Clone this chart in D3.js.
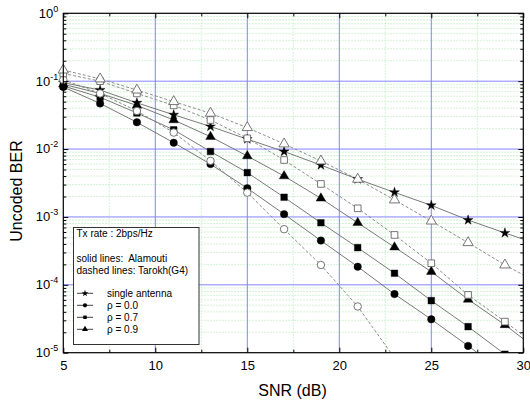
<!DOCTYPE html>
<html><head><meta charset="utf-8">
<script src="https://cdn.jsdelivr.net/npm/d3@7"></script>
<style>
body{margin:0;background:#fff;}
svg{display:block;font-family:Arial,"Liberation Sans",sans-serif;}
</style></head>
<body><svg id="c" width="530" height="406"></svg>
<script>
// ---- data ----
const snr = [5,7,9,11,13,15,17,19,21,23,25,27,29];
const singleAntenna = [0.095,0.074,0.048,0.032,0.0215,0.014,0.0092,0.0058,0.0036,0.0023,0.00148,0.0009,0.00058];
const alamouti00 = [0.082,0.047,0.0248,0.0124,0.006,0.00265,0.0011,0.000448,0.000185,7.3e-5,3.1e-5,1.26e-5,5e-6];
const alamouti07 = [0.085,0.058,0.034,0.0192,0.0092,0.0045,0.00195,0.00082,0.000353,0.000148,5.85e-5,2.42e-5,9.5e-6];
const alamouti09 = [0.09,0.066,0.044,0.0268,0.0152,0.0079,0.004,0.00188,0.00082,0.000358,0.000156,6.1e-5,2.57e-5];
const tarokh00 = [0.105,0.066,0.0364,0.0175,0.0067,0.00228,0.00066,0.000196,4.8e-5,8.4e-6];
const tarokh07 = [0.13,0.1,0.066,0.044,0.0268,0.0144,0.0069,0.00306,0.00134,0.000543,0.000208,7.1e-5,2.87e-5];
const tarokh09 = [0.146,0.108,0.074,0.05,0.0337,0.0207,0.0119,0.00668,0.00359,0.00178,0.00087,0.000418,0.000196];
// line values where each curve meets the right frame (SNR 30)
const endSnr = 30;
const endValues = {single:4.7e-4, a00:2.5e-6, a07:6e-6, a09:1.6e-5, t00:2e-6, t07:1.8e-5, t09:1.4e-4};
const xTicks = [5,10,15,20,25,30];
const xMinor = [7.5,12.5,17.5,22.5,27.5];
const yExps = [0,-1,-2,-3,-4,-5];
const legendTitle = "Tx rate : 2bps/Hz";
const legendSolid = "solid lines:  Alamouti";
const legendDashed = "dashed lines: Tarokh(G4)";
const legendLabels = ["single antenna","ρ = 0.0","ρ = 0.7","ρ = 0.9"];

// ---- layout ----
const L=63.3, R=523.3, T=13.3, B=352.7;
const svg = d3.select("#c");
const x = d3.scaleLinear().domain([5,30]).range([L,R]);
const y = d3.scaleLog().domain([1e-5,1]).range([B,T]);

const yMinor = [];
for (let e=-5;e<0;e++) for (let m=2;m<=9;m++) yMinor.push(m*Math.pow(10,e));

// grid
const g = svg.append("g");
g.selectAll(".gmx").data(xMinor).join("line")
  .attr("x1",d=>x(d)).attr("x2",d=>x(d)).attr("y1",T).attr("y2",B)
  .attr("stroke","#c6f0c6").attr("stroke-width",1).attr("stroke-dasharray","1.5,1.5");
g.selectAll(".gmy").data(yMinor).join("line")
  .attr("x1",L).attr("x2",R).attr("y1",d=>y(d)).attr("y2",d=>y(d))
  .attr("stroke","#c6f0c6").attr("stroke-width",1).attr("stroke-dasharray","1.5,1.5");
g.selectAll(".gMx").data(xTicks.slice(1,-1)).join("line")
  .attr("x1",d=>x(d)).attr("x2",d=>x(d)).attr("y1",T).attr("y2",B)
  .attr("stroke","#8484ff").attr("stroke-width",1);
g.selectAll(".gMy").data(yExps.slice(1,-1)).join("line")
  .attr("x1",L).attr("x2",R).attr("y1",d=>y(Math.pow(10,d))).attr("y2",d=>y(Math.pow(10,d)))
  .attr("stroke","#8484ff").attr("stroke-width",1);

// clip
svg.append("defs").append("clipPath").attr("id","clip")
  .append("rect").attr("x",L-8).attr("y",T).attr("width",R-L+8).attr("height",B-T);
svg.append("defs").append("clipPath").attr("id","clipL")
  .append("rect").attr("x",L).attr("y",T).attr("width",R-L).attr("height",B-T);

const series = [
  {key:"single", v:singleAntenna, sym:d3.symbolStar, size:30, fill:"#000", stroke:"#000", dash:null},
  {key:"a00", v:alamouti00, sym:d3.symbolCircle, size:44, fill:"#000", stroke:"#000", dash:null},
  {key:"a07", v:alamouti07, sym:d3.symbolSquare, size:44, fill:"#000", stroke:"#000", dash:null},
  {key:"a09", v:alamouti09, sym:d3.symbolTriangle, size:40, fill:"#000", stroke:"#000", dash:null},
  {key:"t00", v:tarokh00, sym:d3.symbolCircle, size:44, fill:"#fff", stroke:"#666", dash:"3,2"},
  {key:"t07", v:tarokh07, sym:d3.symbolSquare, size:44, fill:"#fff", stroke:"#666", dash:"3,2"},
  {key:"t09", v:tarokh09, sym:d3.symbolTriangle, size:46, fill:"#fff", stroke:"#666", dash:"3,2"}
];

const line = d3.line().x(d=>x(d[0])).y(d=>y(d[1]));
const lg = svg.append("g").attr("clip-path","url(#clipL)");
series.forEach(s=>{
  const pts = s.v.map((v,i)=>[snr[i],v]);
  if (s.v.length===snr.length) pts.push([endSnr,endValues[s.key]]);
  lg.append("path").datum(pts).attr("d",line).attr("fill","none")
    .attr("stroke", s.dash? "#808080":"#6a6a6a").attr("stroke-width",0.9)
    .attr("stroke-dasharray", s.dash);
});
const mg = svg.append("g").attr("clip-path","url(#clip)");
series.forEach(s=>{
  mg.selectAll(null).data(s.v.map((v,i)=>[snr[i],v])).join("path")
    .attr("transform",d=>`translate(${x(d[0])},${y(d[1])})`)
    .attr("d",d3.symbol().type(s.sym).size(s.size)())
    .attr("fill",s.fill).attr("stroke",s.stroke).attr("stroke-width",s.fill==="#fff"?0.9:0.4);
});

// frame
svg.append("rect").attr("x",L).attr("y",T).attr("width",R-L).attr("height",B-T)
  .attr("fill","none").attr("stroke","#000").attr("stroke-width",1.2);

// axes (ticks inward)
const ax = svg.append("g").attr("transform",`translate(0,${B})`)
  .call(d3.axisBottom(x).tickValues(xTicks).tickSize(-5).tickPadding(8).tickFormat(d3.format("d")));
ax.select(".domain").remove();
ax.selectAll("text").attr("font-size",13).attr("font-family","Arial,'Liberation Sans',sans-serif").attr("fill","#000");
const axm = svg.append("g").attr("transform",`translate(0,${B})`)
  .call(d3.axisBottom(x).tickValues(xMinor).tickSize(-3).tickFormat(""));
axm.select(".domain").remove();
[5,3].forEach((len,k)=>{
  const tt = svg.append("g").attr("transform",`translate(0,${T})`)
    .call(d3.axisTop(x).tickValues(k===0?xTicks:xMinor).tickSize(-len).tickFormat(""));
  tt.select(".domain").remove();
});
const ay = svg.append("g").attr("transform",`translate(${L},0)`)
  .call(d3.axisLeft(y).tickValues(yExps.map(e=>Math.pow(10,e))).tickSize(-5).tickPadding(10).tickFormat(""));
ay.select(".domain").remove();
ay.selectAll(".tick").each(function(d){
  const e = Math.round(Math.log10(d));
  const t = d3.select(this).select("text").attr("font-size",13).attr("fill","#000")
    .attr("font-family","Arial,'Liberation Sans',sans-serif").attr("x",-5).attr("dy","0.3em");
  t.append("tspan").text("10");
  t.append("tspan").attr("dy",-6).attr("font-size",9).text(String(e));
});
const aym = svg.append("g").attr("transform",`translate(${L},0)`)
  .call(d3.axisLeft(y).tickValues(yMinor).tickSize(-3).tickFormat(""));
aym.select(".domain").remove();
const ar = svg.append("g").attr("transform",`translate(${R},0)`)
  .call(d3.axisRight(y).tickValues(yExps.map(e=>Math.pow(10,e))).tickSize(-5).tickFormat(""));
ar.select(".domain").remove();
const arm = svg.append("g").attr("transform",`translate(${R},0)`)
  .call(d3.axisRight(y).tickValues(yMinor).tickSize(-3).tickFormat(""));
arm.select(".domain").remove();
svg.selectAll(".tick line").attr("stroke","#000");

// axis titles
svg.append("text").attr("x",292.5).attr("y",396).attr("text-anchor","middle")
  .attr("font-size",16).text("SNR (dB)");
svg.append("text").attr("transform",`translate(22,191) rotate(-90)`).attr("text-anchor","middle")
  .attr("font-size",16).text("Uncoded BER");

// legend
const lgd = svg.append("g");
lgd.append("rect").attr("x",73.5).attr("y",227.5).attr("width",125.5).attr("height",117)
  .attr("fill","#fff").attr("stroke","#333").attr("stroke-width",1);
const lt = [[legendTitle,236.5],[legendSolid,261.5],[legendDashed,274]];
lt.forEach(([t,yy])=>lgd.append("text").attr("x",76.5).attr("y",yy).attr("font-size",10)
  .style("white-space","pre").text(t));
const legSyms = [[d3.symbolStar,14],[d3.symbolCircle,14],[d3.symbolSquare,12],[d3.symbolTriangle,16]];
legendLabels.forEach((t,i)=>{
  const yy = 293.3 + i*12;
  lgd.append("line").attr("x1",77).attr("x2",93).attr("y1",yy).attr("y2",yy).attr("stroke","#444").attr("stroke-width",1);
  lgd.append("path").attr("transform",`translate(85,${yy})`).attr("d",d3.symbol().type(legSyms[i][0]).size(legSyms[i][1])()).attr("fill","#000");
  lgd.append("text").attr("x",107).attr("y",yy+4).attr("font-size",10).text(t);
});
</script></body></html>
